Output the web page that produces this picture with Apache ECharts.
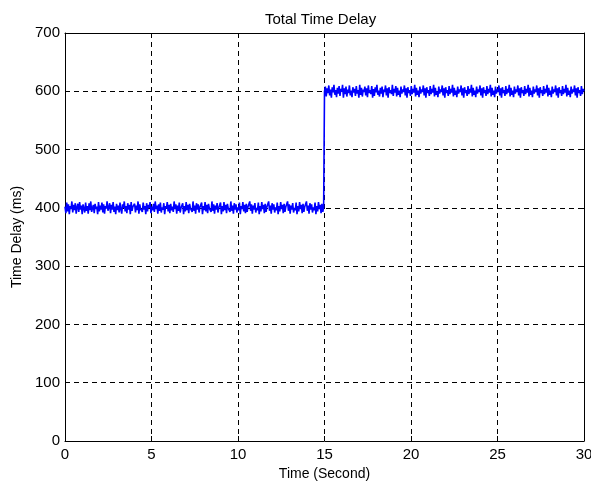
<!DOCTYPE html>
<html><head><meta charset="utf-8">
<script src="https://cdn.jsdelivr.net/npm/echarts@6/dist/echarts.min.js"></script>
<style>html,body{margin:0;padding:0;background:#fff}#c{width:591px;height:482px}</style>
</head><body><div id="c"></div>
<script>
const titleText = 'Total Time Delay';
const xName = 'Time (Second)';
const yName = 'Time Delay (ms)';
const xTicks = [0, 5, 10, 15, 20, 25, 30];
const yTicks = [0, 100, 200, 300, 400, 500, 600, 700];
const switchTime = 15;
const endTime = 30;
// delay before the switch (0 - 15 s)
const delayA = [402,391,409,394,406,389,403,398,411,392,405,396,408,390,401,407,393,410,397,404,389,406,399,392,409,395,403,390,408,396,411,393,400,405,391,407,398,402,389,410,394,404,397,409,392,406,390,403,399,411,395,401,408,391,405,397,410,393,402,389,407,396,404,392,409,398,390,406,400,411,394,403,391,408,397,405,389,410,395,402,399,407,392,404,396,411,390,406,398,401,393,409,397,403,389,408,394,405,400,410,391,402,396,407,393,411,398,404,390,406,395,409,392,401,397,408,389,403,399,410,394,405,391,407,396,402,393,411,398,406,390,404,395,409,392,400,397,408,389,403,394,410,396,405,391,407,399,402,393,411,395,404,390,408,397,406,392,401,398,409,389,403,396,410,394,405,391,407,399,402,393,411,395,406,390,404,397,408,392,400,398,409,389,403,394,410,396,405,391,407,399,402,393,411,395,404,390,408,397,406,392,401,396,409,389,403,398,410,394,405,391,407,393,402,399,411,395,406,390,404,397,408,392,400,396,409,389,403,394,410,398,405,391,407,393,402,399,411,395,404,390,408,397,406,392,401,396,409,389,403,394,410,398,405,391,407,393,402,399,411,395,406,390,404,397,408,392,400,396,409,389,403,394,410,398,405,391,407,393,402,399,411,395,404,390,408,397,406,392,401,396,409,389,403,394,410,398,405,391,407,393,401,399];
// delay after the switch (15 - 30 s)
const delayB = [600,608,591,605,597,610,593,603,589,607,598,611,594,602,590,606,596,609,592,604,599,611,589,605,595,608,591,603,597,610,593,601,590,607,598,604,592,609,596,602,589,611,594,606,591,603,599,608,593,605,590,610,597,602,595,609,589,604,592,607,598,611,594,601,591,606,596,608,590,603,599,610,593,605,589,607,597,602,595,611,592,604,598,609,591,606,594,601,590,608,596,603,599,610,593,605,589,607,597,602,592,609,595,604,598,611,591,606,594,601,590,608,596,603,599,610,593,605,589,607,597,602,592,609,595,604,598,611,591,606,594,600,590,608,596,603,599,610,593,605,589,607,597,602,592,609,595,604,598,611,591,606,594,601,590,608,596,603,599,610,593,605,589,607,597,602,592,609,595,604,598,611,591,606,594,601,590,608,596,603,599,610,593,605,589,607,597,602,592,609,595,604,598,611,591,606,594,601,590,608,596,603,599,610,593,605,589,607,597,602,592,609,595,604,598,611,591,606,594,601,590,608,596,603,599,610,593,605,589,607,597,602,592,609,595,604,598,611,591,606,594,601,590,608,596,603,599,610,593,605,589,607,597,602,592,609,595,604,598,611,591,606,594,601,590,608,596,603,599,610,593,605,589,607,597,602,592,609,595,604,598,611,591,606,594,601,590,608,596,603,599,610,593,605,589,607,597,602,592,609,595,604,600];

const pts = [];
delayA.forEach((v, i) => pts.push([i * switchTime / (delayA.length - 1), v]));
delayB.forEach((v, i) => pts.push([switchTime + i * (endTime - switchTime) / (delayB.length - 1), v]));

const font = 'Liberation Sans, Arial, Helvetica, sans-serif';
const chart = echarts.init(document.getElementById('c'), null, {renderer: 'canvas'});
const baseX = {
  type: 'value', min: xTicks[0], max: xTicks[xTicks.length - 1], interval: 5,
  axisLine: {show: true, onZero: false, lineStyle: {color: '#000', width: 1}},
  axisTick: {show: true, inside: true, length: 5, lineStyle: {color: '#000'}},
};
const baseY = {
  type: 'value', min: yTicks[0], max: yTicks[yTicks.length - 1], interval: 100,
  axisLine: {show: true, onZero: false, lineStyle: {color: '#000', width: 1}},
  axisTick: {show: true, inside: true, length: 5, lineStyle: {color: '#000'}},
};
chart.setOption({
  animation: false,
  backgroundColor: '#fff',
  title: {text: titleText, left: 260, top: 7, textStyle: {fontFamily: font, fontSize: 15, fontWeight: 'normal', color: '#000'}},
  grid: {left: 65, right: 7, top: 33, bottom: 41, show: false, outerBoundsMode: 'none', containLabel: false},
  xAxis: [
    Object.assign({}, baseX, {
      position: 'bottom', name: xName, nameLocation: 'middle', nameGap: 22,
      nameTextStyle: {fontFamily: font, fontSize: 14, color: '#000'},
      axisLabel: {fontFamily: font, fontSize: 15, color: '#000', margin: 6},
      splitLine: {show: true, lineStyle: {color: '#000', type: [5, 4], width: 1}}
    }),
    Object.assign({}, baseX, {position: 'top', axisLabel: {show: false}, splitLine: {show: false}})
  ],
  yAxis: [
    Object.assign({}, baseY, {
      position: 'left', name: yName, nameLocation: 'middle', nameGap: 41,
      nameTextStyle: {fontFamily: font, fontSize: 14, color: '#000'},
      axisLabel: {fontFamily: font, fontSize: 15, color: '#000', margin: 5},
      splitLine: {show: true, lineStyle: {color: '#000', type: [5, 4], width: 1}}
    }),
    Object.assign({}, baseY, {position: 'right', axisLabel: {show: false}, splitLine: {show: false}})
  ],
  series: [{
    type: 'line', data: pts, showSymbol: false, symbol: 'none',
    lineStyle: {color: '#0000ff', width: 1.6}, xAxisIndex: 0, yAxisIndex: 0
  }]
});
</script></body></html>
